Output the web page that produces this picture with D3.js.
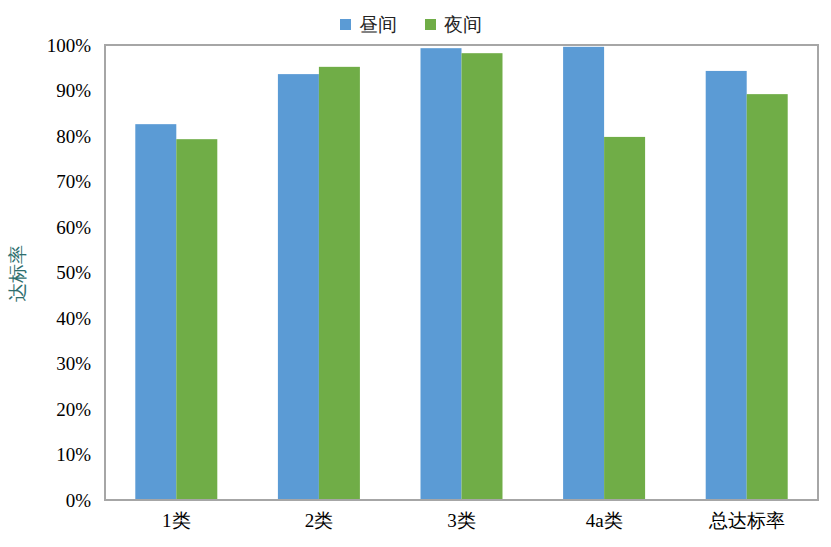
<!DOCTYPE html>
<html><head><meta charset="utf-8">
<script src="https://cdn.jsdelivr.net/npm/d3@7"></script>
<style>body{margin:0;background:#fff}svg{display:block}</style>
</head><body>
<svg id="c" width="831" height="547"></svg>
<script>
const categories = ["1类","2类","3类","4a类","总达标率"];
const seriesNames = ["昼间","夜间"];
const dayValues = [0.826,0.936,0.993,0.996,0.943];
const nightValues = [0.793,0.952,0.982,0.798,0.892];
const yTicks = [0,0.1,0.2,0.3,0.4,0.5,0.6,0.7,0.8,0.9,1.0];
const colors = ["#5b9bd5","#70ad47"];
const FONT = '"Liberation Serif", monospace';

const svg = d3.select("#c");
const m = {left:105, right:818, top:45, bottom:500};
const x0 = d3.scaleBand().domain(categories).range([m.left,m.right]).paddingInner(0.425).paddingOuter(0.2125);
const x1 = d3.scaleBand().domain(seriesNames).range([0,x0.bandwidth()]);
const y = d3.scaleLinear().domain([0,1]).range([m.bottom,m.top]);

const data = categories.map((c,i)=>({c, vals:[dayValues[i],nightValues[i]]}));
const g = svg.append("g");
g.selectAll("g.grp").data(data).join("g").attr("transform",d=>`translate(${x0(d.c)},0)`)
 .selectAll("rect").data(d=>d.vals.map((v,j)=>({v,s:seriesNames[j],j})))
 .join("rect").attr("x",d=>x1(d.s)).attr("width",x1.bandwidth())
 .attr("y",d=>y(d.v)).attr("height",d=>y(0)-y(d.v)).attr("fill",d=>colors[d.j]);

svg.append("rect").attr("x",m.left).attr("y",m.top).attr("width",m.right-m.left).attr("height",m.bottom-m.top)
 .attr("fill","none").attr("stroke","#a6a6a6").attr("stroke-width",2);

const ya = svg.append("g").attr("transform",`translate(${m.left},0)`)
 .call(d3.axisLeft(y).tickValues(yTicks).tickFormat(d3.format(".0%")).tickSize(0).tickPadding(14));
ya.select(".domain").remove();
ya.selectAll("text").style("font-family",FONT).style("font-size","19px").attr("fill","#000");

const xa = svg.append("g").attr("transform",`translate(0,${m.bottom})`)
 .call(d3.axisBottom(x0).tickSize(0).tickPadding(14));
xa.select(".domain").remove();
xa.selectAll("text").style("font-family",FONT).style("font-size","19px").attr("fill","#000");

svg.append("text").attr("transform","translate(24,273) rotate(-90)").attr("text-anchor","middle")
 .style("font-family",FONT).style("font-size","19px").attr("fill","#2e6e6e").text("达标率");

const lg = svg.append("g");
const lx = [340,425];
seriesNames.forEach((s,i)=>{
  lg.append("rect").attr("x",lx[i]).attr("y",19).attr("width",11).attr("height",11).attr("fill",colors[i]);
  lg.append("text").attr("x",lx[i]+19).attr("y",31).style("font-family",FONT).style("font-size","19px").attr("fill","#222").text(s);
});
</script>
</body></html>
